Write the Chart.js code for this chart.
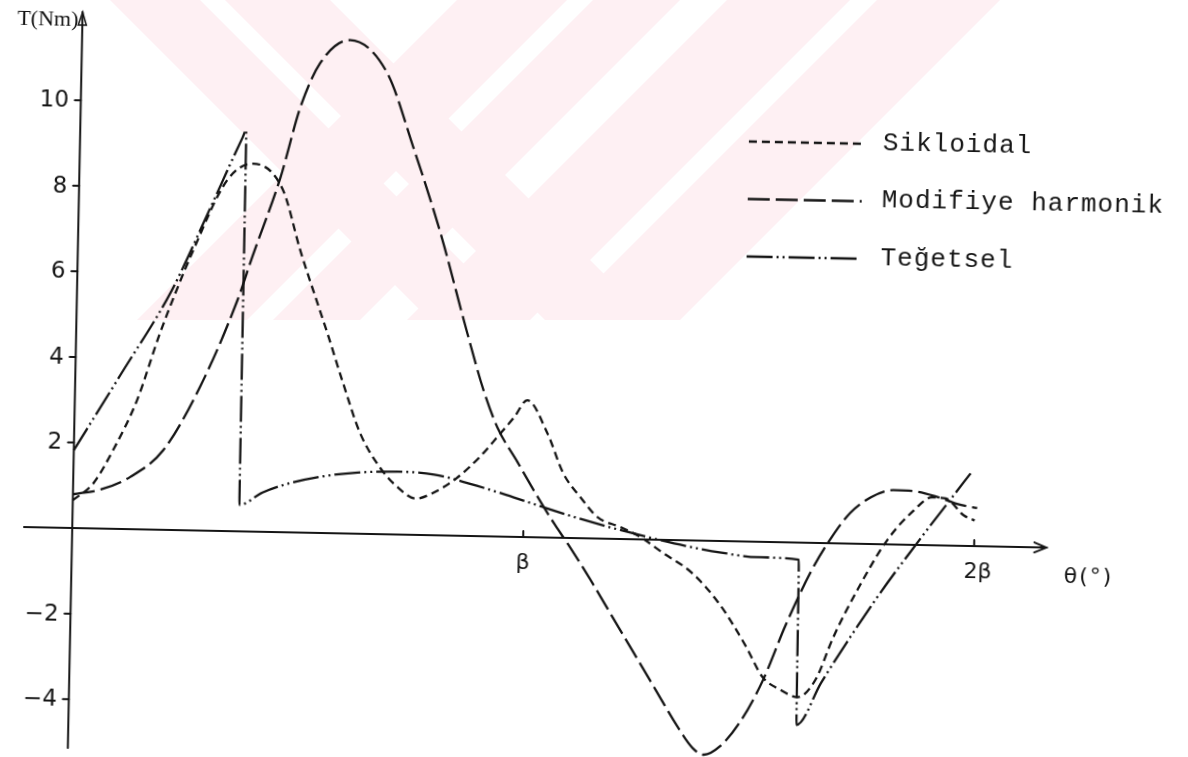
<!DOCTYPE html>
<html>
<head>
<meta charset="utf-8">
<title>T(Nm) – Sikloidal, Modifiye harmonik, Teğetsel</title>
<script src="https://cdn.jsdelivr.net/npm/chart.js@4.4.1/dist/chart.umd.min.js"></script>
<style>
  html, body { margin: 0; padding: 0; background: #fff; overflow: hidden; }
  #wrap { position: relative; width: 1188px; height: 757px; }
  #paper, #plot { position: absolute; left: 0; top: 0; }
  #plot { transform-origin: 72px 528px; transform: rotate(1.15deg); }
</style>
</head>
<body>
<div id="wrap">
  <canvas id="paper" width="1188" height="757"></canvas>
  <canvas id="plot" width="1188" height="757"></canvas>
</div>
<script>
// Cam angle in units of β, torque in Nm
const sikloidalX = [0, 0.045, 0.087, 0.138, 0.186, 0.256, 0.328, 0.385, 0.452, 0.493, 0.557, 0.594, 0.634, 0.68, 0.72, 0.76, 0.80, 0.85, 0.90, 0.94, 0.975, 1.003, 1.049, 1.086, 1.125, 1.164, 1.215, 1.259, 1.31, 1.376, 1.44, 1.497, 1.537, 1.577, 1.615, 1.654, 1.692, 1.743, 1.807, 1.865, 1.904, 1.935, 1.975, 2.0];
const sikloidalT = [0.65, 1.06, 1.84, 3.02, 4.60, 6.55, 8.20, 8.60, 8.00, 6.60, 4.67, 3.51, 2.35, 1.55, 1.10, 0.85, 1.00, 1.35, 1.85, 2.35, 2.80, 3.20, 2.44, 1.51, 0.96, 0.50, 0.28, 0.06, -0.30, -0.76, -1.50, -2.42, -3.16, -3.45, -3.61, -3.20, -2.19, -1.08, 0.10, 0.81, 1.12, 1.10, 0.72, 0.60];

const harmonikX = [0, 0.063, 0.126, 0.198, 0.277, 0.356, 0.387, 0.446, 0.487, 0.529, 0.594, 0.678, 0.739, 0.803, 0.867, 0.906, 0.938, 0.984, 1.03, 1.07, 1.10, 1.15, 1.20, 1.25, 1.30, 1.35, 1.385, 1.41, 1.445, 1.49, 1.537, 1.585, 1.638, 1.68, 1.724, 1.77, 1.818, 1.87, 1.92, 1.96, 2.005];
const harmonikT = [0.79, 0.92, 1.22, 1.86, 3.36, 5.40, 6.42, 8.29, 9.94, 10.98, 11.53, 10.78, 9.06, 7.07, 4.74, 3.40, 2.55, 1.75, 0.95, 0.30, -0.15, -0.95, -1.80, -2.65, -3.50, -4.35, -4.85, -5.00, -4.80, -4.20, -3.25, -1.95, -0.70, 0.08, 0.72, 1.10, 1.27, 1.25, 1.12, 0.98, 0.89];

const tegetselX = [0, 0.1, 0.21, 0.29, 0.36, 0.368, 0.3695, 0.42, 0.48, 0.55, 0.63, 0.72, 0.80, 0.88, 0.96, 1.04, 1.12, 1.20, 1.28, 1.36, 1.44, 1.52, 1.612, 1.614, 1.667, 1.788, 1.873, 1.944, 1.989];
const tegetselT = [1.82, 3.6, 5.6, 7.5, 9.2, 9.38, 0.62, 0.92, 1.15, 1.32, 1.43, 1.47, 1.42, 1.22, 0.98, 0.72, 0.47, 0.25, 0.05, -0.13, -0.27, -0.36, -0.40, -4.26, -3.26, -1.23, 0.04, 1.06, 1.70];

const seriesNames = ['Sikloidal', 'Modifiye harmonik', 'Teğetsel'];
const yTickValues = [-4, -2, 2, 4, 6, 8, 10];
const xTickValues = [1, 2];
const xTickLabels = ['β', '2β'];
const yTitle = 'T(Nm)';
const xTitle = 'θ(°)';

const ink = '#151515';
const toPoints = (xs, ys) => xs.map((v, i) => ({ x: v, y: ys[i] }));

// Pale pink emblem printed on the page behind the plot
(function paintEmblem() {
  const c = document.getElementById('paper').getContext('2d');
  const bottom = 320;
  c.save();
  c.beginPath();
  c.rect(0, 0, 1188, bottom);
  c.clip();
  c.fillStyle = 'rgb(254,240,243)';
  const back = [[110, 200], [225, 330]];          // x - y bands
  const fwd = [[457, 567], [593, 680], [727, 850], [877, 1000]]; // x + y bands
  back.forEach(([a, b]) => {
    c.beginPath();
    c.moveTo(a, 0); c.lineTo(b, 0); c.lineTo(b + bottom, bottom); c.lineTo(a + bottom, bottom);
    c.closePath(); c.fill();
  });
  fwd.forEach(([a, b]) => {
    c.beginPath();
    c.moveTo(a, 0); c.lineTo(b, 0); c.lineTo(b - bottom, bottom); c.lineTo(a - bottom, bottom);
    c.closePath(); c.fill();
  });
  c.restore();
})();

// Axes drawn through the origin, with arrowheads and lettered ticks
const crossAxes = {
  id: 'crossAxes',
  beforeDatasetsDraw(chart) {
    const { ctx, scales: { x, y } } = chart;
    const x0 = x.getPixelForValue(0);
    const y0 = y.getPixelForValue(0);
    const xEnd = x.getPixelForValue(2.16);
    const yTop = y.getPixelForValue(y.max);
    ctx.save();
    ctx.strokeStyle = ink;
    ctx.fillStyle = ink;
    ctx.lineWidth = 2;
    ctx.setLineDash([]);
    ctx.lineCap = 'round';

    ctx.beginPath();
    ctx.moveTo(x.getPixelForValue(x.min), y0);
    ctx.lineTo(xEnd, y0);
    ctx.stroke();
    ctx.beginPath();
    ctx.moveTo(xEnd - 12, y0 - 5);
    ctx.lineTo(xEnd, y0);
    ctx.lineTo(xEnd - 12, y0 + 5);
    ctx.stroke();

    ctx.beginPath();
    ctx.moveTo(x0, y.getPixelForValue(y.min));
    ctx.lineTo(x0, yTop);
    ctx.stroke();
    ctx.lineWidth = 1.5;
    ctx.beginPath();
    ctx.moveTo(x0 - 4, yTop + 13);
    ctx.lineTo(x0, yTop);
    ctx.lineTo(x0 + 4, yTop + 13);
    ctx.closePath();
    ctx.stroke();

    ctx.lineWidth = 2;
    ctx.font = '23px "DejaVu Sans"';
    ctx.textAlign = 'right';
    ctx.textBaseline = 'middle';
    yTickValues.forEach(v => {
      const py = y.getPixelForValue(v);
      ctx.beginPath();
      ctx.moveTo(x0 - 6, py);
      ctx.lineTo(x0, py);
      ctx.stroke();
      ctx.fillText(String(v).replace('-', '−'), x0 - 12, py + 1);
    });

    ctx.textAlign = 'center';
    ctx.font = '22px "DejaVu Sans"';
    xTickValues.forEach((v, i) => {
      const px = x.getPixelForValue(v);
      ctx.beginPath();
      ctx.moveTo(px, y0);
      ctx.lineTo(px, y0 - 6);
      ctx.stroke();
      ctx.fillText(xTickLabels[i], px + (i ? 4 : 0), y0 + 26);
    });

    ctx.font = '22px "Liberation Serif"';
    ctx.textAlign = 'right';
    ctx.fillText(yTitle, x0 - 4, yTop + 8);
    ctx.textAlign = 'left';
    ctx.font = '22px "DejaVu Sans"';
    if ('letterSpacing' in ctx) ctx.letterSpacing = '2px';
    ctx.fillText(xTitle, x.getPixelForValue(2.2), y0 + 29);
    ctx.restore();
  }
};

// Line-sample legend typed to the right of the curves
const typedLegend = {
  id: 'typedLegend',
  afterDatasetsDraw(chart, args, opts) {
    const { ctx } = chart;
    ctx.save();
    ctx.fillStyle = ink;
    ctx.font = '26px "Liberation Mono"';
    ctx.textAlign = 'left';
    ctx.textBaseline = 'middle';
    if ('letterSpacing' in ctx) ctx.letterSpacing = '1px';
    chart.data.datasets.forEach((ds, i) => {
      const ly = opts.top + i * opts.step;
      ctx.strokeStyle = ds.borderColor;
      ctx.lineWidth = ds.borderWidth;
      ctx.setLineDash(ds.borderDash || []);
      ctx.beginPath();
      ctx.moveTo(opts.left, ly);
      ctx.lineTo(opts.left + opts.sample, ly);
      ctx.stroke();
      ctx.fillText(ds.label, opts.left + opts.sample + 20, ly - 1);
    });
    ctx.restore();
  }
};

const common = { showLine: true, pointRadius: 0, borderColor: ink, borderWidth: 2.3, fill: false, clip: false, cubicInterpolationMode: 'monotone' };

new Chart(document.getElementById('plot'), {
  type: 'scatter',
  data: {
    datasets: [
      Object.assign({}, common, { label: seriesNames[0], data: toPoints(sikloidalX, sikloidalT), borderDash: [8, 5] }),
      Object.assign({}, common, { label: seriesNames[1], data: toPoints(harmonikX, harmonikT), borderDash: [22, 6] }),
      Object.assign({}, common, { label: seriesNames[2], data: toPoints(tegetselX, tegetselT), borderDash: [26, 4, 2, 4, 2, 4] })
    ]
  },
  options: {
    responsive: false,
    animation: false,
    devicePixelRatio: 1,
    events: [],
    layout: { padding: { left: 24, right: 137, top: 12, bottom: 9 } },
    scales: {
      x: { type: 'linear', min: -0.107, max: 2.17, display: false },
      y: { type: 'linear', min: -5.14, max: 12.06, display: false }
    },
    plugins: {
      legend: { display: false },
      tooltip: { enabled: false },
      typedLegend: { left: 741, top: 128, step: 57.5, sample: 114 }
    }
  },
  plugins: [crossAxes, typedLegend]
});
</script>
</body>
</html>
